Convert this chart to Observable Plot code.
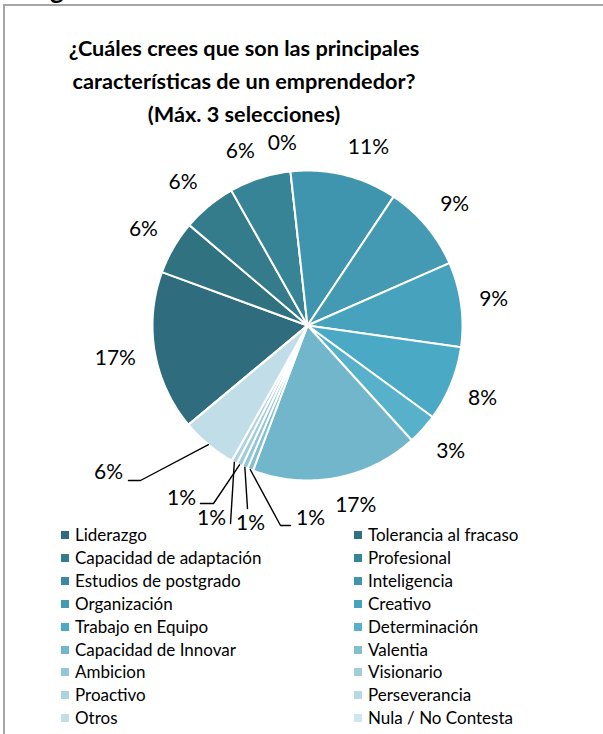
<!DOCTYPE html>
<html><head><meta charset="utf-8">
<script src="https://cdn.jsdelivr.net/npm/d3@7"></script>
<script src="https://cdn.jsdelivr.net/npm/@observablehq/plot@0.6"></script>
<style>
body{margin:0;background:#fff;}
#page{position:relative;width:603px;height:734px;overflow:hidden;font-family:Lato,"Open Sans",sans-serif;color:#000;}
#frame{position:absolute;left:3px;top:4px;width:700px;height:800px;border-left:2px solid #a6a6a6;border-top:2px solid #a6a6a6;}
#cut{position:absolute;left:50px;top:-24px;font-weight:700;font-size:26px;line-height:26px;}
#title{position:absolute;left:0;width:488px;top:32px;text-align:center;font-weight:700;font-size:21.7px;line-height:33px;}
#chart{position:absolute;left:0;top:130px;}
.li{position:absolute;font-size:17px;line-height:20px;white-space:nowrap;}
.sw{position:absolute;width:8px;height:8px;}
</style></head>
<body>
<div id="page">
  <div id="cut">g</div>
  <div id="frame"></div>
  <div id="title">¿Cuáles crees que son las principales<br>características de un emprendedor?<br>(Máx. 3 selecciones)</div>
  <div id="chart"></div>
  <div id="legend"></div>
</div>
<script>
// ---- data ----
const categories = ["Liderazgo","Tolerancia al fracaso","Capacidad de adaptación","Profesional","Estudios de postgrado","Inteligencia","Organización","Creativo","Trabajo en Equipo","Determinación","Capacidad de Innovar","Valentia","Ambicion","Visionario","Proactivo","Perseverancia","Otros","Nula / No Contesta"];
const values = [16.6,5.6,5.6,6.4,0,11.1,9.0,8.8,7.8,3.2,17.4,0.6,0.6,0.6,0.6,0,5.8,0];
const pctLabels = ["17%","6%","6%","6%","0%","11%","9%","9%","8%","3%","17%","1%","1%","1%","1%","","6%",""];
const colors = ["#2f6d7e","#317280","#347b8b","#388497","#3b8a9f","#4095ae","#4499b3","#46a2bd","#4aa9c4","#57b1ca","#72b6cc","#83bed1","#93c6d7","#a1cddb","#add3e0","#b8d9e4","#c1dde7","#d0e6ee"];

// ---- layout ----
const W = 603, SVG_TOP = 130, SVG_H = 400;
const CX = 307, CY = 325, R = 155;
const FIRST_ANGLE = 230.2; // degrees clockwise from 12 o'clock
const LABEL_GAP = 19;      // px beyond the rim
const LABEL_FS = 21;
// manually placed labels with leader lines (px relative to pie centre, y down)
const leaderLayout = {
  "Otros":      {label:[-199,147], path:[[-167,155],[-179,155]]},
  "Visionario": {label:[-126,173], path:[[-94,178],[-107,178]]},
  "Proactivo":  {label:[-96,193],  path:[[-77,198]]},
  "Ambicion":   {label:[-57,198],  path:[[-60,183]]},
  "Valentia":   {label:[3,193],    path:[[-27,200],[-17,200]]}
};

const a0 = FIRST_ANGLE*Math.PI/180;
const arcs = d3.pie().sort(null).value(d=>d.v).startAngle(a0).endAngle(a0+2*Math.PI)(categories.map((c,i)=>({c,v:values[i],i})));

// slice polygons
const slicePts = [];
arcs.forEach(a=>{
  const key = a.data.c;
  slicePts.push({key,x:0,y:0});
  const n = Math.max(2, Math.ceil((a.endAngle-a.startAngle)/(Math.PI/180)));
  for(let k=0;k<=n;k++){
    const t = a.startAngle + (a.endAngle-a.startAngle)*k/n;
    slicePts.push({key,x:Math.sin(t),y:Math.cos(t)});
  }
  slicePts.push({key,x:0,y:0});
});

// labels
const labelData = [], leaderPts = [];
arcs.forEach(a=>{
  const name = a.data.c, txt = pctLabels[a.data.i];
  if(!txt) return;
  const mid = (a.startAngle+a.endAngle)/2;
  const ux = Math.sin(mid), uy = Math.cos(mid);
  const L = leaderLayout[name];
  if(L){
    labelData.push({x:L.label[0]/R, y:-L.label[1]/R, t:txt});
    leaderPts.push({key:name,x:ux,y:uy});
    L.path.forEach(p=>leaderPts.push({key:name,x:p[0]/R,y:-p[1]/R}));
  } else {
    const hw = txt.length*6.9, hh = 9;
    const ox = hw*Math.max(-1,Math.min(1,ux*4));
    const oy = hh*Math.max(-1,Math.min(1,uy*2));
    const rr = R+LABEL_GAP;
    labelData.push({x:(ux*rr+ox)/R, y:(uy*rr+oy)/R, t:txt});
  }
});

const chart = Plot.plot({
  width: W, height: SVG_H,
  marginTop:0, marginBottom:0, marginLeft:0, marginRight:0,
  x:{domain:[-CX/R,(W-CX)/R], axis:null},
  y:{domain:[-(SVG_H-(CY-SVG_TOP))/R,(CY-SVG_TOP)/R], axis:null},
  color:{domain:categories, range:colors},
  style:{fontFamily:"Lato, 'Open Sans', sans-serif", overflow:"visible", background:"transparent"},
  marks:[
    Plot.line(slicePts,{x:"x",y:"y",z:"key",fill:"key",stroke:"white",strokeWidth:2,strokeLinejoin:"round"}),
    Plot.line(leaderPts,{x:"x",y:"y",z:"key",stroke:"#000",strokeWidth:1.4}),
    Plot.text(labelData,{x:"x",y:"y",text:"t",fontSize:LABEL_FS,fill:"#000",textAnchor:"middle"})
  ]
});
document.getElementById("chart").appendChild(chart);

// legend (2 columns, row-wise)
const legend = document.getElementById("legend");
const colX = [61,354], textX = [75,368], ROW0 = 535, ROWH = 22.9;
categories.forEach((c,i)=>{
  const row = Math.floor(i/2), col = i%2, cy = ROW0 + row*ROWH;
  const sw = document.createElement("div");
  sw.className="sw"; sw.style.left=colX[col]+"px"; sw.style.top=(cy-4)+"px"; sw.style.background=colors[i];
  const tx = document.createElement("div");
  tx.className="li"; tx.style.left=textX[col]+"px"; tx.style.top=(cy-10)+"px"; tx.textContent=c;
  legend.appendChild(sw); legend.appendChild(tx);
});
</script>
</body></html>
